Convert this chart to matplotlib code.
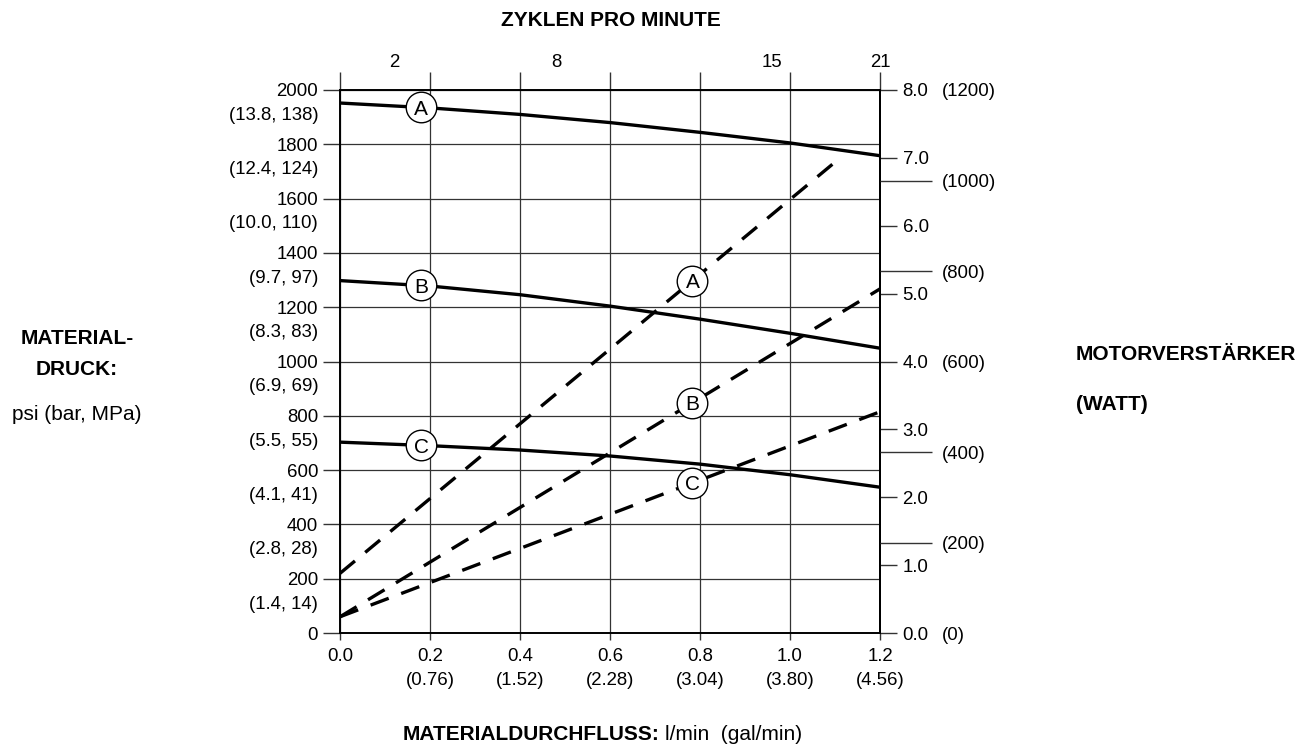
import numpy as np
import matplotlib.pyplot as plt

plt.rcParams['font.family'] = ['Liberation Sans', 'DejaVu Sans']

# data
flow = [0.0, 0.2, 0.4, 0.6, 0.8, 1.0, 1.2]
flow_gal = ['', '(0.76)', '(1.52)', '(2.28)', '(3.04)', '(3.80)', '(4.56)']
psi_ticks = [0, 200, 400, 600, 800, 1000, 1200, 1400, 1600, 1800, 2000]
psi_sub = ['(1.4, 14)', '(2.8, 28)', '(4.1, 41)', '(5.5, 55)', '(6.9, 69)',
           '(8.3, 83)', '(9.7, 97)', '(10.0, 110)', '(12.4, 124)', '(13.8, 138)']
amp_ticks = [0, 1, 2, 3, 4, 5, 6, 7, 8]
watt_long = [200, 400, 800, 1000]
watt_short = [0, 600, 1200]
cycles = ['2', '8', '15', '21']
cycle_pos = [0.12, 0.48, 0.96, 1.2]

# pressure curves (psi)
psi_a = [1952, 1934, 1910, 1880, 1844, 1805, 1758]
psi_b = [1298, 1278, 1246, 1204, 1156, 1104, 1049]
psi_c = [703, 690, 674, 652, 622, 583, 537]

# motor amp lines
amp_flow_a = [0.0, 1.095]
amp_a = [0.88, 6.91]
amp_flow_bc = [0.0, 1.2]
amp_b = [0.24, 5.07]
amp_c = [0.24, 3.26]

labels = ['A', 'B', 'C']
solid_lbl_x = 0.18
dash_lbl_x = 0.783

fig = plt.figure(figsize=(13.08, 7.45), dpi=100)
ax = fig.add_axes([0.26, 0.1503, 0.4128, 0.7289])
ax2 = ax.twinx()
ax3 = ax.twinx()

fs = 13.4
grid_c = '#333333'

# main axis
ax.set_xlim(0, 1.2)
ax.set_ylim(0, 2000)
ax.set_xticks(flow)
ax.set_xticklabels([f'{f:.1f}\n{g}' for f, g in zip(flow, flow_gal)], fontsize=fs,
                   linespacing=1.6, va='top')
ax.set_yticks(psi_ticks)
ax.set_yticklabels([str(v) for v in psi_ticks], fontsize=fs)
ax.set_yticks([v - 86 for v in psi_ticks[1:]], minor=True)
ax.set_yticklabels(psi_sub, minor=True, fontsize=fs)
ax.tick_params(axis='y', which='major', length=12.4, width=1, pad=3.4, color=grid_c)
ax.tick_params(axis='y', which='minor', length=0, pad=15.8)
ax.tick_params(axis='x', which='major', length=5, width=1, pad=5.5, color=grid_c,
               top=True, labeltop=False)
for t in ax.xaxis.get_major_ticks():
    t.tick2line.set_markersize(13)
ax.grid(True, which='major', color=grid_c, lw=0.9)
for s in ax.spines.values():
    s.set_linewidth(1.4)

for ys in (psi_a, psi_b, psi_c):
    ax.plot(flow, ys, color='black', lw=2.4, solid_capstyle='butt', zorder=3)

# secondary top axis: cycles per minute
sec = ax.secondary_xaxis('top')
sec.set_xticks(cycle_pos)
sec.set_xticklabels(cycles, fontsize=fs)
sec.tick_params(length=0, pad=14)
sec.spines['top'].set_visible(False)

# amps
ax2.set_ylim(0, 8)
ax2.set_yticks(amp_ticks)
ax2.set_yticklabels([f'{v:.1f}' for v in amp_ticks], fontsize=fs)
ax2.tick_params(axis='y', length=12.2, width=1, pad=4, color=grid_c)
for s in ax2.spines.values():
    s.set_visible(False)
ax2.spines['right'].set_visible(True)
ax2.spines['right'].set_linewidth(1.4)
for xs, ys in ((amp_flow_a, amp_a), (amp_flow_bc, amp_b), (amp_flow_bc, amp_c)):
    ax2.plot(xs, ys, color='black', lw=2.4, dashes=(5.8, 4.0), zorder=3)

# watts
ax3.set_ylim(0, 1200)
ax3.set_yticks(watt_long)
ax3.set_yticklabels([f'({v})' for v in watt_long], fontsize=fs)
ax3.set_yticks(watt_short, minor=True)
ax3.set_yticklabels([f'({v})' for v in watt_short], minor=True, fontsize=fs)
ax3.tick_params(axis='y', which='major', length=37.4, width=1, pad=7, color=grid_c)
ax3.tick_params(axis='y', which='minor', length=0, pad=44.4)
for s in ax3.spines.values():
    s.set_visible(False)

# circled labels
circ = dict(marker='o', ms=22, mfc='white', mec='black', mew=1.0, ls='none', zorder=5)
for lab, ys in zip(labels, (psi_a, psi_b, psi_c)):
    y = np.interp(solid_lbl_x, flow, ys)
    ax.plot([solid_lbl_x], [y], **circ)
    ax.text(solid_lbl_x, y, lab, ha='center', va='center_baseline', fontsize=15, zorder=6)
for lab, (xs, ys) in zip(labels, ((amp_flow_a, amp_a), (amp_flow_bc, amp_b), (amp_flow_bc, amp_c))):
    y = np.interp(dash_lbl_x, xs, ys)
    ax2.plot([dash_lbl_x], [y], **circ)
    ax2.text(dash_lbl_x, y, lab, ha='center', va='center_baseline', fontsize=15, zorder=6)

# outer labels
fig.text(611 / 1308, 1 - 20 / 745, 'ZYKLEN PRO MINUTE', ha='center', va='center',
         fontsize=15, weight='bold')
fig.text(77 / 1308, 1 - 339 / 745, 'MATERIAL-', ha='center', va='center',
         fontsize=15, weight='bold')
fig.text(77 / 1308, 1 - 370 / 745, 'DRUCK:', ha='center', va='center',
         fontsize=15, weight='bold')
fig.text(77 / 1308, 1 - 414 / 745, 'psi (bar, MPa)', ha='center', va='center', fontsize=15)
fig.text(1076 / 1308, 1 - 355 / 745, 'MOTORVERSTÄRKER', ha='left', va='center',
         fontsize=15, weight='bold')
fig.text(1076 / 1308, 1 - 405 / 745, '(WATT)', ha='left', va='center',
         fontsize=15, weight='bold')
fig.text(660 / 1308, 1 - 735 / 745, 'MATERIALDURCHFLUSS:', ha='right', va='center',
         fontsize=15, weight='bold')
fig.text(665 / 1308, 1 - 735 / 745, 'l/min  (gal/min)', ha='left', va='center', fontsize=15)

fig.savefig('out.png', dpi=100)
